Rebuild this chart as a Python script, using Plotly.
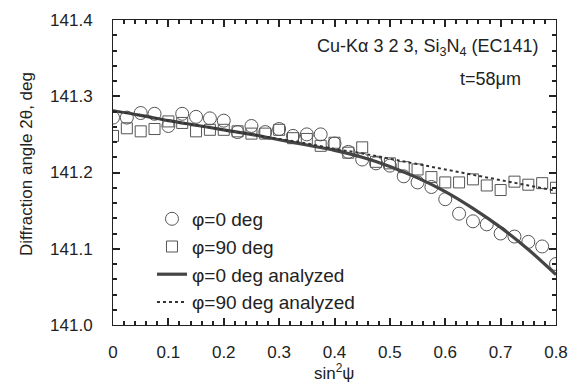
import plotly.graph_objects as go

# ---- data ----
sin2psi = [0.000, 0.025, 0.050, 0.075, 0.100, 0.125, 0.150, 0.175, 0.200, 0.225,
           0.250, 0.275, 0.300, 0.325, 0.350, 0.375, 0.400, 0.425, 0.450, 0.475,
           0.500, 0.525, 0.550, 0.575, 0.600, 0.625, 0.650, 0.675, 0.700, 0.725,
           0.750, 0.775, 0.800]
phi0_meas = [141.272, 141.272, 141.278, 141.277, 141.261, 141.277, 141.273, 141.271, 141.268, 141.253,
             141.261, 141.253, 141.257, 141.248, 141.250, 141.250, 141.238, 141.227, 141.217, 141.212,
             141.209, 141.195, 141.187, 141.181, 141.165, 141.146, 141.136, 141.132, 141.120, 141.116,
             141.109, 141.103, 141.080]
phi90_meas = [141.248, 141.258, 141.254, 141.257, 141.267, 141.265, 141.254, 141.256, 141.256, 141.254,
              141.251, 141.251, 141.256, 141.245, 141.244, 141.235, 141.239, 141.226, 141.233, 141.214,
              141.212, 141.207, 141.204, 141.194, 141.187, 141.187, 141.191, 141.183, 141.177, 141.188,
              141.184, 141.186, 141.180]
sin2psi_fit = [0.00, 0.05, 0.10, 0.15, 0.20, 0.25, 0.30, 0.35, 0.40, 0.45,
               0.50, 0.55, 0.60, 0.65, 0.70, 0.75, 0.80]
phi0_fit = [141.281, 141.275, 141.268, 141.262, 141.256, 141.250, 141.243, 141.236, 141.229, 141.220,
            141.208, 141.193, 141.175, 141.153, 141.128, 141.099, 141.066]
phi90_fit = [141.281, 141.275, 141.268, 141.262, 141.256, 141.250, 141.244, 141.238, 141.231, 141.225,
             141.218, 141.211, 141.204, 141.197, 141.190, 141.183, 141.176]

names = ["\u03c6=0 deg", "\u03c6=90 deg", "\u03c6=0 deg analyzed", "\u03c6=90 deg analyzed"]
x_range = [0, 0.8]
y_range = [141.0, 141.4]

FONT = "Liberation Sans, Arial, sans-serif"
INK = "#222222"
AX = "#222222"

fig = go.Figure()
fig.add_trace(go.Scatter(x=sin2psi, y=phi0_meas, mode="markers", name=names[0],
                         marker=dict(symbol="circle-open", size=13, color="#555555",
                                     line=dict(width=1, color="#555555"))))
fig.add_trace(go.Scatter(x=sin2psi, y=phi90_meas, mode="markers", name=names[1],
                         marker=dict(symbol="square-open", size=11, color="#555555",
                                     line=dict(width=1, color="#555555"))))
fig.add_trace(go.Scatter(x=sin2psi_fit, y=phi0_fit, mode="lines", name=names[2],
                         line=dict(color="#444444", width=3.2, shape="spline")))
fig.add_trace(go.Scatter(x=sin2psi_fit, y=phi90_fit, mode="lines", name=names[3],
                         line=dict(color="#333333", width=2, dash="dot", shape="spline")))

fig.update_xaxes(range=x_range, dtick=0.1, showline=True, linecolor=AX,
                 mirror="allticks", ticks="inside", ticklen=7, tickcolor=AX, tickwidth=1.5,
                 gridcolor="rgba(0,0,0,0)", zerolinecolor="rgba(0,0,0,0)",
                 tickfont=dict(size=17, color=INK), ticklabelstandoff=12,
                 minor=dict(ticks="inside", ticklen=4, dtick=0.02, tickcolor=AX))
fig.update_yaxes(range=y_range, dtick=0.1, tickformat=".1f", showline=True, linecolor=AX,
                 mirror="allticks", ticks="inside", ticklen=7, tickcolor=AX, tickwidth=1.5,
                 gridcolor="rgba(0,0,0,0)", zerolinecolor="rgba(0,0,0,0)",
                 tickfont=dict(size=17, color=INK), ticklabelstandoff=16,
                 minor=dict(ticks="inside", ticklen=4, dtick=0.02, tickcolor=AX))

fig.add_annotation(text="Cu-K\u03b1 3 2 3, Si<sub>3</sub>N<sub>4</sub> (EC141)",
                   xref="paper", yref="paper", x=0.966, y=0.911, xanchor="right", yanchor="middle",
                   showarrow=False, font=dict(size=18, color=INK))
fig.add_annotation(text="t=58\u03bcm",
                   xref="paper", yref="paper", x=0.925, y=0.805, xanchor="right", yanchor="middle",
                   showarrow=False, font=dict(size=18, color=INK))
fig.add_annotation(text="sin<sup>2</sup>\u03c8",
                   xref="paper", yref="paper", x=0.499, y=-0.155, xanchor="center", yanchor="middle",
                   showarrow=False, font=dict(size=17, color=INK))
fig.add_annotation(text="Diffraction angle 2\u03b8, deg", textangle=-90,
                   xref="paper", yref="paper", x=-0.194, y=0.528, xanchor="center", yanchor="middle",
                   showarrow=False, font=dict(size=17, color=INK))

fig.update_layout(
    width=580, height=392,
    margin=dict(l=113, r=24, t=20, b=67),
    plot_bgcolor="white",
    font=dict(family=FONT, color=INK),
    showlegend=True,
    legend=dict(x=0.088, y=0.41, xanchor="left", yanchor="top",
                bgcolor="rgba(0,0,0,0)", borderwidth=0,
                font=dict(size=19, color=INK),
                itemwidth=30),
)

fig.write_html("out.html")
